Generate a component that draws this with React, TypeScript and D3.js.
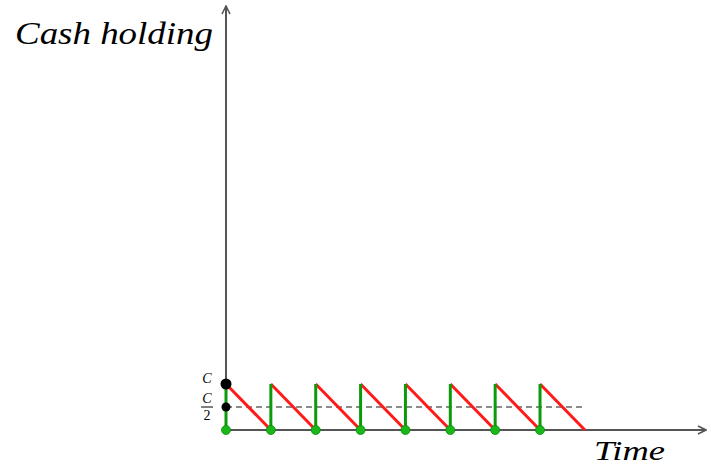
import React from "react";
import * as d3 from "d3";

// Baumol-Tobin cash holding sawtooth: withdraw C, spend down to zero, repeat.
const restockTimes = [0, 1, 2, 3, 4, 5, 6, 7];
const cashLevel = 1; // C
const averageLevel = 0.5; // C/2
const depletionPeriod = 1;
const timeDomain = [0, 10.7];
const cashDomain = [0, 9.22];

const W = 711;
const H = 467;

export default function App() {
  const x = d3.scaleLinear().domain(timeDomain).range([226, 706]);
  const y = d3.scaleLinear().domain(cashDomain).range([430, 6]);
  const line = d3
    .line<[number, number]>()
    .x((d) => x(d[0]))
    .y((d) => y(d[1]));

  const lastEnd = restockTimes[restockTimes.length - 1] + depletionPeriod;
  const axisColor = "#555";
  const serif = "'Liberation Serif', 'Times New Roman', serif";

  return (
    <svg
      width={W}
      height={H}
      style={{ position: "absolute", left: 0, top: 0, background: "#fff" }}
    >
      <defs>
        <marker
          id="arrow"
          viewBox="0 0 10 10"
          refX="9"
          refY="5"
          markerWidth="5"
          markerHeight="5"
          orient="auto"
        >
          <path d="M1,1 L9,5 L1,9" fill="none" stroke={axisColor} strokeWidth={1.6} />
        </marker>
      </defs>

      {/* axes */}
      <path
        d={line([[timeDomain[0], 0], [timeDomain[1], 0]]) || ""}
        stroke={axisColor}
        strokeWidth={2}
        fill="none"
        markerEnd="url(#arrow)"
      />
      <path
        d={line([[0, 0], [0, cashDomain[1]]]) || ""}
        stroke={axisColor}
        strokeWidth={2}
        fill="none"
        markerEnd="url(#arrow)"
      />

      {/* average holding */}
      <path
        d={line([[0, averageLevel], [lastEnd, averageLevel]]) || ""}
        stroke="#666"
        strokeWidth={1.5}
        strokeDasharray="6 4"
        fill="none"
      />

      {/* spending down */}
      {restockTimes.map((t) => (
        <path
          key={`r${t}`}
          d={line([[t, cashLevel], [t + depletionPeriod, 0]]) || ""}
          stroke="#ff1a1a"
          strokeWidth={3}
          fill="none"
        />
      ))}

      {/* withdrawals */}
      {restockTimes.map((t) => (
        <path
          key={`g${t}`}
          d={line([[t, 0], [t, cashLevel]]) || ""}
          stroke="#0a9a0a"
          strokeWidth={3}
          fill="none"
        />
      ))}

      {restockTimes.map((t) => (
        <circle key={`d${t}`} cx={x(t)} cy={y(0)} r={4.5} fill="#18b818" stroke="#0a8a0a" strokeWidth={0.8} />
      ))}

      <circle cx={x(0)} cy={y(cashLevel)} r={5.5} fill="#000" />
      <circle cx={x(0)} cy={y(averageLevel)} r={4.5} fill="#000" />

      {/* tick labels */}
      <text x={207} y={y(cashLevel) - 1} fontFamily={serif} fontStyle="italic" fontSize={14} textAnchor="middle" fill="#000">
        C
      </text>
      <text x={207} y={y(averageLevel) - 4} fontFamily={serif} fontStyle="italic" fontSize={14} textAnchor="middle" fill="#000">
        C
      </text>
      <line x1={201} x2={213} y1={y(averageLevel)} y2={y(averageLevel)} stroke="#000" strokeWidth={1} />
      <text x={207} y={y(averageLevel) + 13} fontFamily={serif} fontSize={14} textAnchor="middle" fill="#000">
        2
      </text>

      {/* axis titles */}
      <text
        x={15}
        y={44}
        fontFamily={serif}
        fontStyle="italic"
        fontSize={31}
        textLength={198}
        lengthAdjust="spacingAndGlyphs"
        fill="#000"
      >
        Cash holding
      </text>
      <text
        x={594}
        y={460}
        fontFamily={serif}
        fontStyle="italic"
        fontSize={28}
        textLength={71}
        lengthAdjust="spacingAndGlyphs"
        fill="#000"
      >
        Time
      </text>
    </svg>
  );
}
